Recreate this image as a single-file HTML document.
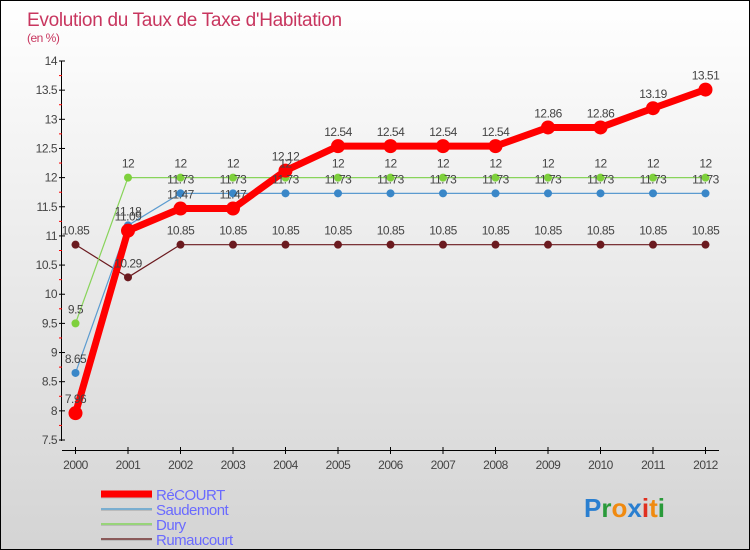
<!DOCTYPE html>
<html><head><meta charset="utf-8"><style>
body{margin:0}
#wrap{width:748px;height:548px;border:1px solid #000;background:linear-gradient(#fff,#d4d4d4);position:relative;overflow:hidden;font-family:"Liberation Sans",sans-serif}
</style></head><body>
<div id="wrap">
<svg id="c" width="748" height="548"></svg>
</div>
<script>
const years=['2000','2001','2002','2003','2004','2005','2006','2007','2008','2009','2010','2011','2012'];
const recourt=[7.96,11.09,11.47,11.47,12.12,12.54,12.54,12.54,12.54,12.86,12.86,13.19,13.51];
const saudemont=[8.65,11.18,11.73,11.73,11.73,11.73,11.73,11.73,11.73,11.73,11.73,11.73,11.73];
const dury=[9.5,12,12,12,12,12,12,12,12,12,12,12,12];
const rumaucourt=[10.85,10.29,10.85,10.85,10.85,10.85,10.85,10.85,10.85,10.85,10.85,10.85,10.85];
const yTicks=[7.5,8,8.5,9,9.5,10,10.5,11,11.5,12,12.5,13,13.5,14];
const svg=document.getElementById('c');const NS='http://www.w3.org/2000/svg';
function xs(i){return 74.5+i*52.5;}
function ys(v){return 439-(v-7.5)/6.5*379;}
function el(t,a,p){const e=document.createElementNS(NS,t);for(const k in a)e.setAttribute(k,a[k]);(p||svg).appendChild(e);return e;}
function tx(x,y,s,o){const e=el('text',Object.assign({x:x,y:y,'font-size':12,fill:'#444','letter-spacing':'-0.5'},o||{}));e.textContent=s;return e;}
let t=tx(26,25,'Evolution du Taux de Taxe d\'Habitation',{'font-size':19,fill:'#c8365f','letter-spacing':'-0.3'});
t=tx(26,41,'(en %)',{fill:'#c8365f'});
// axes
let a=el('line',{x1:60.5,y1:60,x2:60.5,y2:440,stroke:'#000'});
a=el('line',{x1:61,y1:449.5,x2:718,y2:449.5,stroke:'#000'});
yTicks.forEach(v=>{const y=ys(v);el('line',{x1:58,y1:y,x2:64,y2:y,stroke:'#000'});
 const l=tx(56,y+4,String(v),{'text-anchor':'end'});
 if(v<14)el('line',{x1:58,y1:ys(v+0.25),x2:61,y2:ys(v+0.25),stroke:'#f00'});});
years.forEach((yr,i)=>{const x=xs(i);el('line',{x1:x,y1:446,x2:x,y2:453,stroke:'#000'});
 const l=tx(x,468,yr,{'text-anchor':'middle'});});
const series=[[rumaucourt,'#6b1a1f',1.2,4,'rumaucourt'],[dury,'#88d45a',1.2,4,'dury'],[saudemont,'#5b9bd0',1.2,4,'saudemont'],[recourt,'#f00',7,7,'recourt']];
const dotc={rumaucourt:'#6b1a1f',dury:'#7ed03c',saudemont:'#3a87c8',recourt:'#f00'};
series.forEach(s=>{const g=el('g',{});
 el('polyline',{points:s[0].map((v,i)=>xs(i)+','+ys(v)).join(' '),fill:'none',stroke:s[1],'stroke-width':s[2],'stroke-linejoin':'round'},g);
 s[0].forEach((v,i)=>{const c=el('circle',{cx:xs(i),cy:ys(v),r:s[3],fill:dotc[s[4]]},g);});});
series.forEach(s=>{s[0].forEach((v,i)=>{const l=tx(xs(i),ys(v)-10,String(v),{'text-anchor':'middle'});});});
// legend
const leg=[['RéCOURT','#f00',7],['Saudemont','#7aaed0',2],['Dury','#98d47a',2],['Rumaucourt','#8a5a5a',2]];
leg.forEach((e,i)=>{const y=493+i*15;const g=el('g',{});
 el('line',{x1:100,y1:y+1,x2:151,y2:y+1,stroke:'#bbb','stroke-width':e[2]},g);
 el('line',{x1:100,y1:y,x2:151,y2:y,stroke:e[1],'stroke-width':e[2]},g);
 const l=document.createElementNS(NS,'text');l.setAttribute('x',155);l.setAttribute('y',y+6);l.setAttribute('font-size',15);l.setAttribute('fill','#6a6aff');l.setAttribute('letter-spacing','-0.5');l.textContent=e[0];g.appendChild(l);});
// logo
const lg=el('text',{x:583,y:516,'font-size':26,'font-weight':'bold'});
[['P','#2a7fd0'],['r','#2a9a3a'],['o','#f08a10'],['x','#2a7fd0'],['i','#e03020'],['t','#f08a10'],['i','#2a9a3a']].forEach(p=>{const s=document.createElementNS(NS,'tspan');s.setAttribute('fill',p[1]);s.textContent=p[0];lg.appendChild(s);});
</script>
</body></html>
